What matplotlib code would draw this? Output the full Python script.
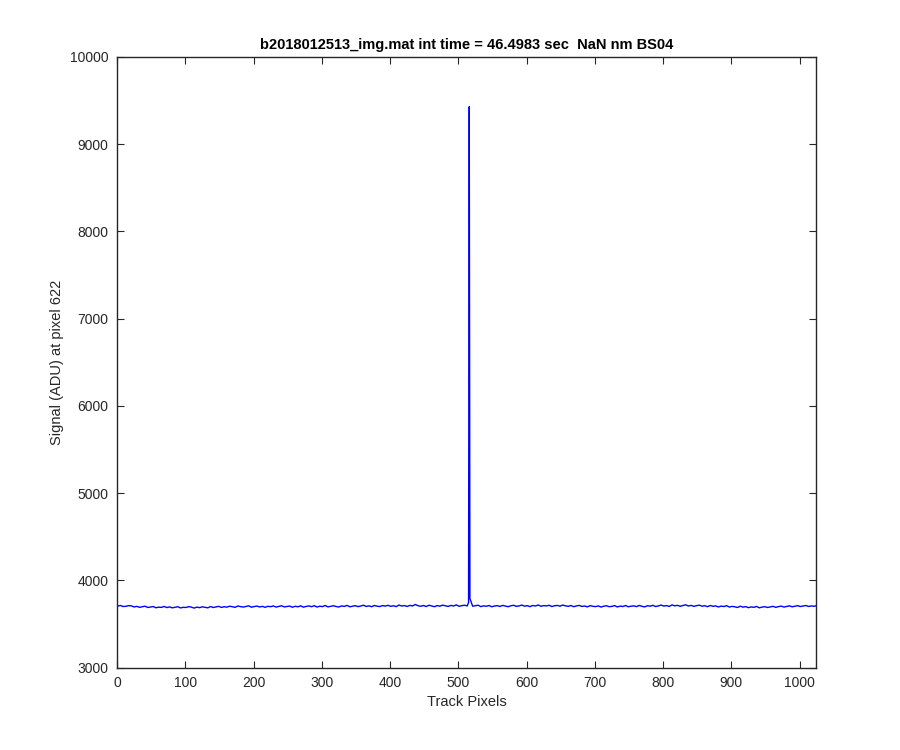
import numpy as np
import matplotlib
matplotlib.use("Agg")
import matplotlib.pyplot as plt

plt.rcParams['font.family'] = ['Liberation Sans', 'DejaVu Sans']

# Baseline signal read roughly every 4 pixels (x = 1, 5, 9, ..., 1021) plus end point
base_x = list(range(1, 1024, 4)) + [1024]
base_y = [
    3705, 3711, 3699, 3702, 3709, 3707, 3694, 3701, 3690, 3696,
    3703, 3688, 3694, 3699, 3685, 3692, 3689, 3700, 3687, 3695,
    3684, 3691, 3697, 3683, 3690, 3688, 3698, 3692, 3681, 3693,
    3686, 3696, 3690, 3684, 3699, 3688, 3694, 3701, 3689, 3697,
    3692, 3703, 3696, 3690, 3705, 3698, 3693, 3700, 3707, 3691,
    3699, 3704, 3694, 3701, 3690, 3702, 3697, 3706, 3693, 3700,
    3708, 3695, 3699, 3704, 3691, 3702, 3696, 3707, 3692, 3700,
    3706, 3697, 3709, 3693, 3703, 3698, 3711, 3695, 3702, 3708,
    3699, 3694, 3706, 3701, 3712, 3696, 3703, 3709, 3698, 3705,
    3714, 3700, 3707, 3697, 3711, 3703, 3699, 3710, 3704, 3713,
    3701, 3708, 3698, 3716, 3705, 3710, 3700, 3712, 3706, 3723,
    3708, 3702, 3711, 3699, 3714, 3706, 3697, 3710, 3703, 3715,
    3707, 3700, 3712, 3705, 3718, 3702, 3709, 3714, 3706, 3711,
    3703, 3709, 3714, 3698, 3707, 3702, 3711, 3696, 3705, 3709,
    3700, 3712, 3704, 3697, 3708, 3713, 3701, 3706, 3716, 3703,
    3709, 3698, 3711, 3705, 3717, 3702, 3710, 3706, 3714, 3699,
    3708, 3712, 3703, 3716, 3707, 3701, 3711, 3697, 3706, 3712,
    3700, 3705, 3695, 3709, 3702, 3698, 3706, 3693, 3703, 3708,
    3697, 3701, 3710, 3694, 3704, 3699, 3711, 3696, 3703, 3707,
    3698, 3712, 3701, 3695, 3708, 3703, 3713, 3699, 3706, 3716,
    3704, 3710, 3700, 3718, 3707, 3713, 3702, 3711, 3719, 3705,
    3712, 3701, 3709, 3715, 3703, 3708, 3697, 3711, 3702, 3706,
    3694, 3704, 3699, 3709, 3693, 3701, 3696, 3688, 3703, 3692,
    3698, 3686, 3695, 3690, 3700, 3684, 3693, 3697, 3688, 3694,
    3701, 3690, 3698, 3704, 3693, 3700, 3707, 3696, 3703, 3709,
    3699, 3705, 3711, 3700, 3706, 3702, 3708,
]
# Peak around pixel 516
peak_x = [515, 516, 517]
peak_y = [3745, 9430, 3790]

bx = np.array(base_x, dtype=float)
by = np.array(base_y, dtype=float)
keep = (bx < min(peak_x)) | (bx > max(peak_x))
xs = np.concatenate([bx[keep], peak_x])
ys = np.concatenate([by[keep], peak_y])
order = np.argsort(xs)
xs, ys = xs[order], ys[order]

title = "b2018012513_img.mat int time = 46.4983 sec  NaN nm BS04"
xlabel = "Track Pixels"
ylabel = "Signal (ADU) at pixel 622"

fig = plt.figure(figsize=(9, 7.5), dpi=100)
ax = fig.add_axes([0.13, 0.11, 0.7767, 0.814])
ax.plot(xs, ys, color=(0, 0, 1), linewidth=1.0)
ax.set_xlim(0, 1024)
ax.set_ylim(3000, 10000)
ax.set_xticks(np.arange(0, 1001, 100))
ax.set_yticks(np.arange(3000, 10001, 1000))
axcol = (0.15, 0.15, 0.15)
for s in ax.spines.values():
    s.set_color(axcol)
    s.set_linewidth(1.0)
ax.tick_params(direction='in', top=True, right=True, length=5, width=0.8,
               colors=axcol, labelsize=10, pad=6)
ax.set_title(title, fontsize=10.5, fontweight='bold', color='black', pad=6)
ax.set_xlabel(xlabel, fontsize=10.5, color=axcol, labelpad=4)
ax.set_ylabel(ylabel, fontsize=10.5, color=axcol, labelpad=4)
fig.savefig("out.png", dpi=100, facecolor='white')
